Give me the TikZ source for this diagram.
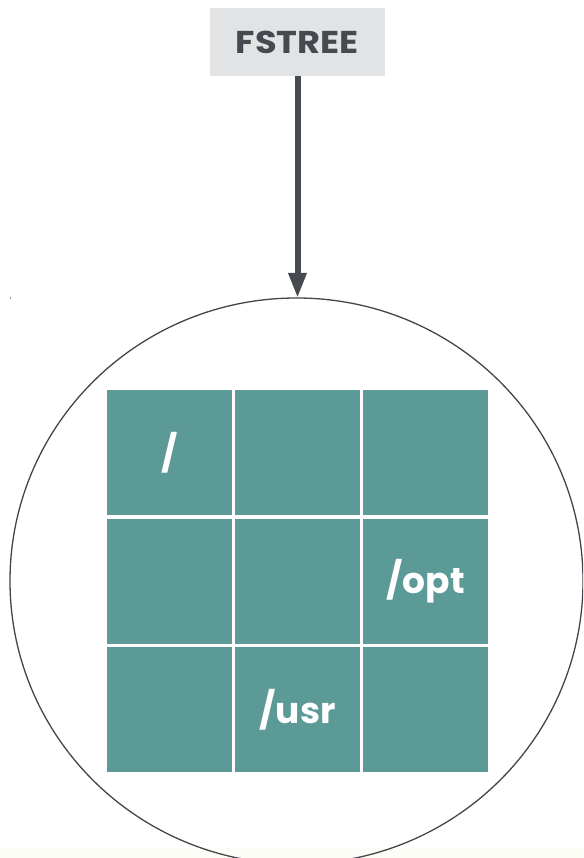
\documentclass[tikz,border=0pt]{standalone}
\usepackage{fontspec}
\setmainfont{Poppins}
\usetikzlibrary{arrows.meta}
\definecolor{boxgray}{HTML}{E2E3E5}
\definecolor{ink}{HTML}{454A50}
\definecolor{teal}{HTML}{5B9A97}
\definecolor{cream}{HTML}{FDFDF8}
\tikzset{
  header/.style={fill=boxgray, text=ink,
    font=\bfseries\fontsize{31.5}{37}\selectfont\addfontfeature{FakeStretch=1.12},
    minimum width=175pt, minimum height=68pt, inner sep=0pt},
  cell/.style={fill=teal, text=white,
    font=\bfseries\fontsize{36}{42}\selectfont,
    minimum width=125pt, minimum height=125pt, inner sep=0pt},
  feed/.style={draw=ink, line width=6pt, -{Triangle[width=17pt,length=25pt]}},
}
\begin{document}
\begin{tikzpicture}[x=1pt,y=-1pt]
  \useasboundingbox (0,0) rectangle (583,858);
  \fill[white] (0,0) rectangle (583,858);
  \fill[cream] (0,848) rectangle (583,858);
  \begin{scope}
    \clip (0,0) rectangle (583,858);
    % outer ring holding the grid
    \draw[draw=ink!95!black, line width=1.3pt]
      (296.5,581) ellipse [x radius=286.5, y radius=283];
  \end{scope}
  \fill[ink!60] (10,296.5) rectangle (11,298.5);

  % header box
  \node[header] (fstree) at (297.5,42) {FSTREE};
  \coordinate (top) at (297.5,298);
  \draw[feed] (fstree.south) -- (top);

  % 3x3 grid of cells
  \node[cell] (c11) at (169.5,452.5) {/};
  \node[cell] (c12) at (297.5,452.5) {};
  \node[cell] (c13) at (425.5,452.5) {};
  \node[cell] (c21) at (169.5,581) {};
  \node[cell] (c22) at (297.5,581) {};
  \node[cell] (c23) at (425.5,581) {/opt};
  \node[cell] (c31) at (169.5,709.5) {};
  \node[cell] (c32) at (297.5,709.5) {/usr};
  \node[cell] (c33) at (425.5,709.5) {};
\end{tikzpicture}
\end{document}
